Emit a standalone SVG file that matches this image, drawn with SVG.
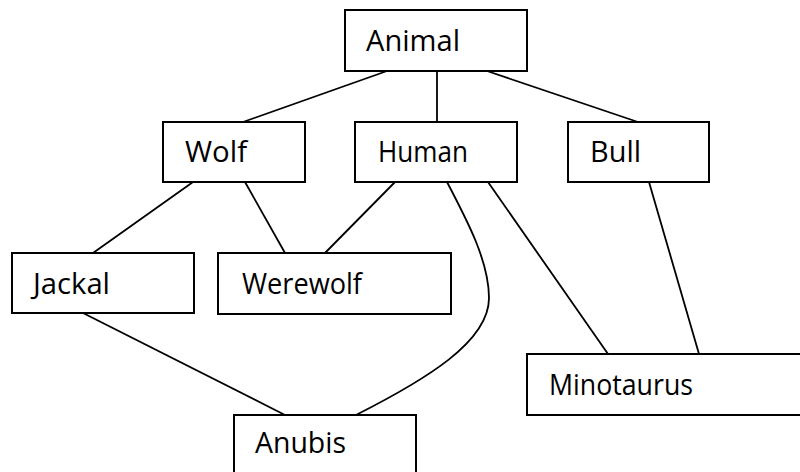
<svg xmlns="http://www.w3.org/2000/svg" width="800" height="472" viewBox="0 0 800 472">
  <style>
    .box { fill: #ffffff; stroke: #000000; stroke-width: 2; }
    .label { font-family: "Open Sans", "DejaVu Sans", sans-serif; font-size: 28.5px; fill: #000000; }
    .edge { fill: none; stroke: #000000; stroke-width: 1.8; }
  </style>
  <rect width="800" height="472" fill="#ffffff"/>

  <!-- connectors -->
  <g id="edges">
    <line class="edge" x1="387" y1="71" x2="243" y2="122"/>
    <line class="edge" x1="437" y1="71" x2="437" y2="122"/>
    <line class="edge" x1="487" y1="71" x2="638" y2="122"/>
    <line class="edge" x1="193" y1="182" x2="93" y2="253"/>
    <line class="edge" x1="245" y1="182" x2="285" y2="253"/>
    <line class="edge" x1="395" y1="182" x2="325" y2="253"/>
    <path class="edge" d="M447,182 C468,222 489,262 489,298 C489,342 425,380 356,415"/>
    <line class="edge" x1="488" y1="182" x2="608" y2="354"/>
    <line class="edge" x1="649" y1="182" x2="699" y2="354"/>
    <line class="edge" x1="83" y1="313" x2="285" y2="415"/>
  </g>

  <!-- nodes -->
  <g id="animal">
    <rect class="box" x="345" y="10" width="182" height="61"/>
    <text class="label" x="366" y="51" textLength="94" lengthAdjust="spacingAndGlyphs">Animal</text>
  </g>
  <g id="wolf">
    <rect class="box" x="163" y="122" width="142" height="60"/>
    <text class="label" x="185" y="162" textLength="62" lengthAdjust="spacingAndGlyphs">Wolf</text>
  </g>
  <g id="human">
    <rect class="box" x="355" y="122" width="162" height="60"/>
    <text class="label" x="378" y="162" textLength="90" lengthAdjust="spacingAndGlyphs">Human</text>
  </g>
  <g id="bull">
    <rect class="box" x="568" y="122" width="141" height="60"/>
    <text class="label" x="590" y="162" textLength="51" lengthAdjust="spacingAndGlyphs">Bull</text>
  </g>
  <g id="jackal">
    <rect class="box" x="12" y="253" width="182" height="60"/>
    <text class="label" x="33" y="294" textLength="77" lengthAdjust="spacingAndGlyphs">Jackal</text>
  </g>
  <g id="werewolf">
    <rect class="box" x="218" y="253" width="233" height="61"/>
    <text class="label" x="242" y="294" textLength="120" lengthAdjust="spacingAndGlyphs">Werewolf</text>
  </g>
  <g id="minotaurus">
    <rect class="box" x="527" y="354" width="300" height="61"/>
    <text class="label" x="549" y="395" textLength="144" lengthAdjust="spacingAndGlyphs">Minotaurus</text>
  </g>
  <g id="anubis">
    <rect class="box" x="234" y="415" width="182" height="70"/>
    <text class="label" x="255" y="453" textLength="91" lengthAdjust="spacingAndGlyphs">Anubis</text>
  </g>
</svg>
